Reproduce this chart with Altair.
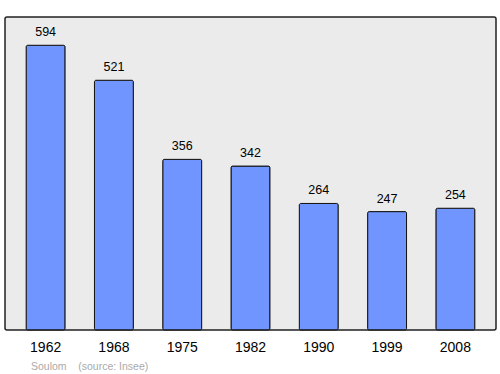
import altair as alt
import pandas as pd

years = ["1962", "1968", "1975", "1982", "1990", "1999", "2008"]
population = [594, 521, 356, 342, 264, 247, 254]

df = pd.DataFrame({"year": years, "pop": population})

x = alt.X("year:N", sort=years,
          scale=alt.Scale(paddingInner=0.43, paddingOuter=0.31),
          axis=alt.Axis(title=None, labelAngle=0, ticks=False, domain=False,
                        labelFontSize=14, labelColor="#000000", labelPadding=10,
                        labelFont="Liberation Sans"))
y = alt.Y("pop:Q", scale=alt.Scale(domain=[0, 653], nice=False, zero=True),
          axis=None)

bars = alt.Chart(df).mark_bar(color="#7095ff", stroke="#111111", strokeWidth=1,
                              cornerRadius=1.5).encode(x=x, y=y)
labels = alt.Chart(df).mark_text(baseline="bottom", dy=-6, fontSize=12.5,
                                 font="Liberation Sans", color="#000000").encode(
    x=x, y=y, text="pop:Q")

chart = (bars + labels).properties(
    width=491, height=313,
    title=alt.TitleParams("Soulom\u00a0\u00a0\u00a0\u00a0(source: Insee)", orient="bottom",
                          anchor="start", fontSize=10.5, color="#aaaaaa",
                          font="Liberation Sans", fontWeight="normal", offset=8, dx=26),
    autosize=alt.AutoSizeParams(type="none"),
    padding={"left": 5, "top": 17, "right": 4, "bottom": 44},
).configure_view(
    fill="#ebebeb", stroke="#222222", strokeWidth=1.5, cornerRadius=2
)

chart.save("out.html", embed_options={"renderer": "svg", "actions": False})
